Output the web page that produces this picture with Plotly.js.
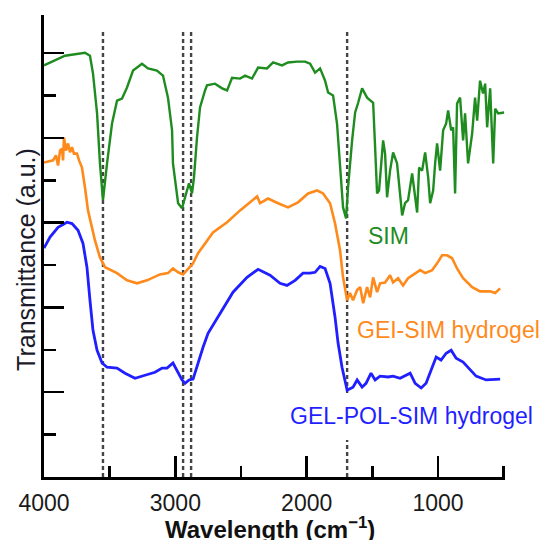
<!DOCTYPE html>
<html>
<head>
<meta charset="utf-8">
<script src="https://cdn.plot.ly/plotly-3.0.1.min.js"></script>
<style>html,body{margin:0;padding:0;background:#fff;}#chart{width:546px;height:540px;}</style>
</head>
<body>
<div id="chart"></div>
<script>
// Wavenumbers (cm^-1) and transmittance (a.u., offset stacked)
const simWave = [4000,3840,3688,3650,3627,3596,3574,3551,3520,3482,3444,3406,3368,3322,3254,3208,3140,3094,3056,3025,3018,3002,2979,2949,2911,2896,2873,2858,2835,2812,2774,2759,2698,2644,2606,2568,2507,2469,2416,2370,2302,2256,2188,2142,2073,2012,1974,1936,1898,1860,1837,1799,1769,1746,1723,1700,1685,1654,1631,1608,1578,1540,1494,1479,1464,1449,1418,1403,1388,1365,1342,1312,1296,1273,1251,1228,1197,1182,1159,1144,1121,1098,1075,1060,1037,1022,1007,984,961,938,923,900,885,870,855,832,809,794,771,740,718,702,680,657,641,626,603,580,565,542,512,497];
const simT = [9.71,9.94,10.01,9.94,9.52,8.58,7.40,6.53,7.40,8.34,8.88,8.93,9.19,9.59,9.75,9.64,9.59,9.47,8.95,8.18,7.40,6.95,6.46,6.34,6.76,6.93,6.69,7.07,8.01,8.72,9.12,9.24,9.28,9.17,9.12,9.42,9.40,9.47,9.40,9.66,9.64,9.78,9.71,9.78,9.80,9.80,9.75,9.54,9.64,9.35,9.07,9.00,8.34,7.40,6.36,6.10,6.83,7.94,8.60,8.83,9.17,8.95,8.83,7.78,6.69,6.76,7.94,7.63,6.60,7.23,7.66,7.40,6.83,6.17,6.46,6.53,7.16,6.76,6.24,7.30,7.23,7.66,7.07,6.46,6.76,7.40,7.87,7.23,8.18,8.34,8.65,8.18,8.25,6.69,8.81,8.95,7.94,8.58,7.40,8.11,8.95,8.41,9.35,9.05,9.28,8.25,9.17,7.40,8.69,8.58,8.60,8.60];

const geiWave = [4000,3931,3909,3893,3878,3863,3855,3848,3832,3817,3802,3787,3772,3749,3733,3711,3688,3665,3635,3612,3574,3535,3444,3368,3292,3216,3117,3056,3018,2979,2941,2903,2865,2827,2759,2713,2606,2507,2431,2377,2355,2294,2218,2142,2066,1989,1921,1875,1822,1784,1746,1723,1692,1670,1647,1616,1593,1570,1540,1517,1494,1464,1441,1403,1365,1342,1304,1266,1228,1174,1136,1098,1045,1007,969,931,893,855,809,740,680,603,565,527];
const geiT = [7.42,7.47,7.59,7.35,7.70,7.75,7.47,8.01,7.70,7.87,7.66,7.78,7.63,7.63,7.47,7.30,6.83,6.29,5.89,5.58,5.18,4.95,4.81,4.64,4.57,4.64,4.78,4.81,4.92,4.83,4.78,4.92,5.04,5.28,5.58,5.77,6.01,6.29,6.48,6.62,6.46,6.57,6.46,6.36,6.48,6.69,6.76,6.69,6.46,5.98,5.35,4.71,4.17,4.34,4.17,4.41,4.48,4.10,4.48,4.24,4.71,4.36,4.57,4.59,4.76,4.59,4.69,4.52,4.69,4.81,4.88,4.81,4.88,5.04,5.23,5.23,5.16,4.92,4.69,4.48,4.38,4.38,4.34,4.45];

const polWave = [4000,3954,3893,3825,3787,3741,3703,3673,3650,3627,3596,3558,3520,3444,3383,3307,3231,3155,3101,3063,3018,2987,2949,2926,2896,2865,2827,2789,2751,2644,2561,2454,2370,2279,2203,2150,2088,2028,1974,1936,1898,1860,1822,1784,1761,1731,1692,1647,1616,1578,1548,1510,1479,1441,1380,1342,1289,1212,1174,1128,1091,1053,1014,977,938,900,862,809,756,710,634,527];
const polT = [5.40,5.66,5.89,6.01,5.98,5.82,5.51,4.95,4.17,3.46,2.99,2.69,2.59,2.57,2.45,2.33,2.40,2.47,2.57,2.57,2.69,2.52,2.29,2.21,2.29,2.31,2.69,3.06,3.39,3.93,4.36,4.71,4.90,4.76,4.57,4.52,4.64,4.81,4.81,4.83,4.97,4.92,4.57,3.77,3.16,2.59,2.05,2.12,2.29,2.12,2.21,2.45,2.29,2.38,2.36,2.38,2.33,2.45,2.21,2.10,2.21,2.52,2.83,2.76,2.92,2.99,2.80,2.71,2.52,2.38,2.29,2.31];

// Marked band positions (cm^-1)
const bandLines = [3551, 2941, 2880, 1692];

const xTickVals = [4000, 3000, 2000, 1000];
const xTickText = ['4000', '3000', '2000', '1000'];

const labels = ['SIM', 'GEI-SIM hydrogel', 'GEL-POL-SIM hydrogel'];
const colors = ['#1f8c1f', '#ff8a1c', '#1f1fff'];

const FONT = '"Liberation Sans", Arial, sans-serif';

const traces = [
  {x: simWave, y: simT, mode: 'lines', line: {color: colors[0], width: 2.4}, hoverinfo: 'skip'},
  {x: geiWave, y: geiT, mode: 'lines', line: {color: colors[1], width: 2.6}, hoverinfo: 'skip'},
  {x: polWave, y: polT, mode: 'lines', line: {color: colors[2], width: 2.8}, hoverinfo: 'skip'}
];

const shapes = [];
bandLines.forEach((w, i) => {
  const segs = (i === 3) ? [[0, 0.87], [1.98, 10.51]] : [[0, 10.51]];
  segs.forEach(s => shapes.push({
    type: 'line', xref: 'x', yref: 'y', x0: w, x1: w, y0: s[0], y1: s[1],
    line: {color: '#444', width: 2.4, dash: '4px,3px'}, layer: 'below'
  }));
});

const annotations = [
  {x: 1548, y: 5.68, text: labels[0], color: colors[0]},
  {x: 1631, y: 3.46, text: labels[1], color: colors[1]},
  {x: 2142, y: 1.44, text: labels[2], color: colors[2]}
].map(a => ({
  x: a.x, y: a.y, xref: 'x', yref: 'y', text: a.text, showarrow: false,
  xanchor: 'left', yanchor: 'middle',
  font: {family: FONT, size: 23, color: a.color}
}));

// Axis titles placed as annotations for exact positioning
annotations.push({
  xref: 'paper', yref: 'paper', x: -0.039, y: 0.47, xanchor: 'center', yanchor: 'middle',
  text: 'Transmittance (a.u.)', textangle: -90, showarrow: false,
  font: {family: FONT, size: 25, color: '#1a1a2a'}
});
annotations.push({
  xref: 'paper', yref: 'paper', x: 0.49, y: -0.111, xanchor: 'center', yanchor: 'middle',
  text: '<b>Wavelength (cm<sup>−1</sup>)</b>', showarrow: false,
  font: {family: FONT, size: 24, color: '#111'}
});

const layout = {
  width: 546, height: 540,
  margin: {l: 44, r: 41, t: 15, b: 63},
  paper_bgcolor: '#fff', plot_bgcolor: '#fff',
  showlegend: false,
  xaxis: {
    range: [4000, 490],
    showgrid: false, zeroline: false,
    showline: true, linecolor: '#000', linewidth: 3,
    ticks: 'inside', ticklen: 21, tickwidth: 2.5, tickcolor: '#000',
    tickmode: 'array', tickvals: xTickVals, ticktext: xTickText,
    minor: {dtick: 500, tick0: 0, ticks: 'inside', ticklen: 11, tickwidth: 2.5, tickcolor: '#000', showgrid: false},
    tickfont: {family: FONT, size: 23, color: '#1a1a1a'},
    ticklabelstandoff: 3
  },
  yaxis: {
    range: [0, 10.9],
    showgrid: false, zeroline: false,
    showline: true, linecolor: '#000', linewidth: 3,
    ticks: 'inside', ticklen: 20, tickwidth: 2.5, tickcolor: '#000',
    dtick: 2, tick0: 0,
    minor: {dtick: 1, tick0: 0, ticks: 'inside', ticklen: 12, tickwidth: 2.5, tickcolor: '#000', showgrid: false},
    showticklabels: false
  },
  shapes: shapes,
  annotations: annotations
};

Plotly.newPlot('chart', traces, layout, {displayModeBar: false, staticPlot: true});
</script>
</body>
</html>
